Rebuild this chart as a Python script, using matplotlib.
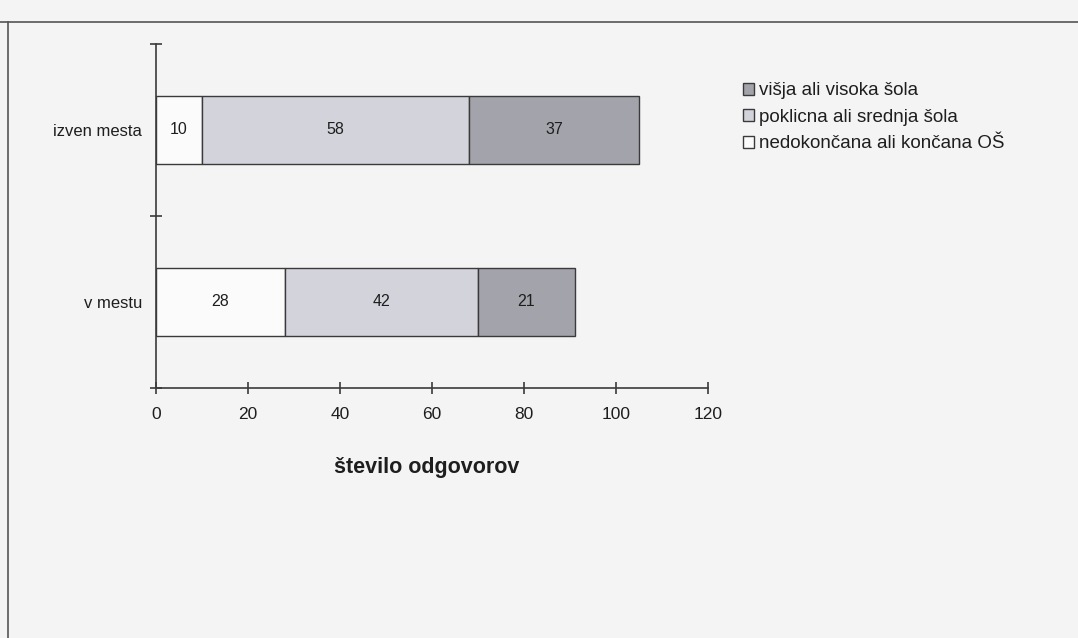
import matplotlib.pyplot as plt
from matplotlib.lines import Line2D
from matplotlib.patches import Patch

plt.rcParams['font.family'] = ['Liberation Sans', 'DejaVu Sans']

categories = ['v mestu', 'izven mesta']
osnovna = [28, 10]
srednja = [42, 58]
visoka = [21, 37]

labels = ['nedokončana ali končana OŠ', 'poklicna ali srednja šola', 'višja ali visoka šola']
colors = ['#fbfbfb', '#d3d3db', '#a3a3ab']
edge = '#3a3a3a'
txt = '#1e1e1e'
bg = '#f4f4f4'

fig = plt.figure(figsize=(10.78, 6.38), dpi=100, facecolor=bg)
ax = fig.add_axes([0.1447, 0.392, 0.512, 0.539])
ax.set_facecolor(bg)

left = [0, 0]
series = [osnovna, srednja, visoka]
for vals, col in zip(series, colors):
    bars = ax.barh(categories, vals, left=left, height=0.4, color=col,
                   edgecolor=edge, linewidth=1.0)
    for b, v in zip(bars, vals):
        ax.text(b.get_x() + b.get_width() / 2, b.get_y() + b.get_height() / 2,
                str(v), ha='center', va='center', fontsize=11.5, color=txt)
    left = [l + v for l, v in zip(left, vals)]

ax.set_xlim(0, 120)
ax.set_ylim(-0.5, 1.5)
ax.set_xticks(range(0, 121, 20))
ax.set_yticks([-0.5, 0.5, 1.5], minor=True)
ax.set_yticks([0, 1])
ax.tick_params(axis='y', which='major', length=0, pad=10, labelsize=12, labelcolor=txt)
ax.tick_params(axis='y', which='minor', length=8, direction='inout', width=1.2, color=edge)
ax.tick_params(axis='x', length=8, direction='inout', width=1.2, color=edge,
               pad=10, labelsize=12.5, labelcolor=txt)
for s in ['top', 'right']:
    ax.spines[s].set_visible(False)
for s in ['left', 'bottom']:
    ax.spines[s].set_color(edge)
    ax.spines[s].set_linewidth(1.2)

ax.set_xlabel('število odgovorov', fontsize=15.5, fontweight='bold', color=txt)
ax.xaxis.set_label_coords(0.49, -0.2)

handles = [Patch(facecolor=c, edgecolor=edge, label=l) for c, l in zip(colors, labels)]
ax.legend(handles=handles[::-1], loc='upper left', bbox_to_anchor=(1.05, 0.91),
          frameon=False, fontsize=13.5, handlelength=0.6, handleheight=0.6,
          handletextpad=0.25, labelspacing=0.5, borderaxespad=0, labelcolor=txt)

# frame lines around the figure
fig.add_artist(Line2D([0, 1], [1 - 22 / 638, 1 - 22 / 638], color='#555555', lw=1.2))
fig.add_artist(Line2D([8 / 1078, 8 / 1078], [0, 1 - 22 / 638], color='#555555', lw=1.2))

fig.savefig('out.png', dpi=100, facecolor=bg)
